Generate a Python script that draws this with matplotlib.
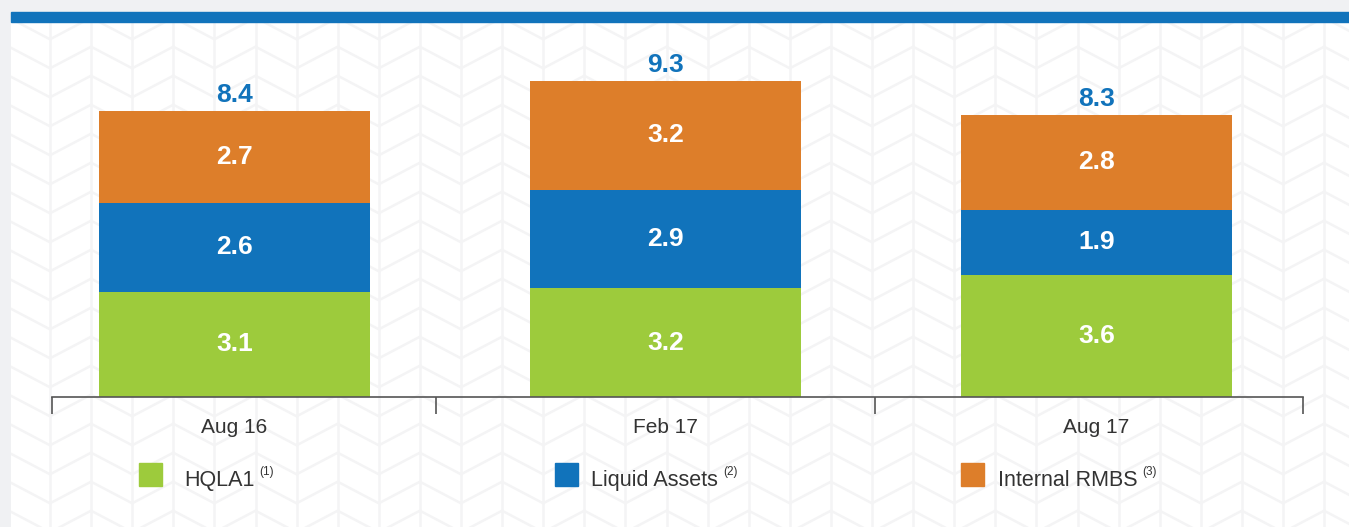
import matplotlib
matplotlib.use("Agg")
import matplotlib.pyplot as plt
from matplotlib.patches import Rectangle
from matplotlib.collections import LineCollection
import numpy as np

# data
periods = ["Aug 16", "Feb 17", "Aug 17"]
series = ["HQLA1", "Liquid Assets", "Internal RMBS"]
notes = ["(1)", "(2)", "(3)"]
hqla1 = [3.1, 3.2, 3.6]
liquid_assets = [2.6, 2.9, 1.9]
internal_rmbs = [2.7, 3.2, 2.8]
totals = [8.4, 9.3, 8.3]

colors = ["#9dcb3c", "#1173bb", "#dd7e2a"]
fonts = ["Liberation Sans Narrow", "Liberation Sans", "DejaVu Sans"]
plt.rcParams["font.family"] = fonts

W, H = 1349, 527
fig = plt.figure(figsize=(W / 100, H / 100), dpi=100, facecolor="#f0f1f3")

# white panel with herringbone pattern
bg = fig.add_axes([11 / W, 0, (W - 11) / W, (H - 22) / H], zorder=0)
bg.set_xlim(11, W)
bg.set_ylim(H, 22)
bg.axis("off")
bg.add_patch(Rectangle((11, 22), W - 11, H - 22, color="white", zorder=0))
xs = 50 + 41.1 * np.arange(-1, 34)
segs = [[(x, 22), (x, H)] for x in xs]
ys = [68.3 if (i - 1) % 2 == 0 else 46.7 for i in range(len(xs))]
for i in range(len(xs) - 1):
    for j in range(-3, 20):
        segs.append([(xs[i], ys[i] + 29 * j), (xs[i + 1], ys[i + 1] + 29 * j)])
bg.add_collection(LineCollection(segs, colors="#f4f4f5", linewidths=1.8, zorder=1))

# blue band on top
fig.patches.append(Rectangle((11 / W, (H - 22) / H), (W - 11) / W, 10 / H,
                             transform=fig.transFigure, color="#1173bb"))

ax = fig.add_axes([52 / W, 130 / H, 1251 / W, 340 / H], zorder=2)
ax.patch.set_visible(False)
x = np.arange(len(periods))
bottom = np.zeros(len(periods))
for vals, c in zip([hqla1, liquid_assets, internal_rmbs], colors):
    bars = ax.bar(x, vals, 0.629, bottom=bottom, color=c)
    ax.bar_label(bars, labels=[f"{v:.1f}" for v in vals], label_type="center",
                 color="white", fontsize=19, fontweight="bold")
    bottom += np.array(vals)

for xi, t in zip(x, totals):
    ax.annotate(f"{t:.1f}", (xi, t), xytext=(0, 6.5), textcoords="offset points",
                ha="center", va="baseline", color="#1173bb", fontsize=19,
                fontweight="bold")

ax.set_xlim(-0.4234, 2.479)
ax.set_ylim(0, 10)
ax.set_yticks([])
for s in ["left", "right", "top"]:
    ax.spines[s].set_visible(False)
ax.spines["bottom"].set_color("#555555")
ax.spines["bottom"].set_linewidth(1.2)
ax.set_xticks([-0.4234, 0.4675, 1.486, 2.479], labels=[])
ax.set_xticks(x, labels=periods, minor=True)
ax.tick_params(axis="x", which="major", length=12.2, width=1.2, color="#555555")
ax.tick_params(axis="x", which="minor", length=0, pad=15, labelsize=15,
               labelcolor="#333333")

# legend
sq_x = [139, 555, 961]
tx_x = [184, 591, 998]
renderer = fig.canvas.get_renderer()
for name, note, c, sx, tx in zip(series, notes, colors, sq_x, tx_x):
    fig.patches.append(Rectangle((sx / W, 1 - 486 / H), 23 / W, 23 / H,
                                 transform=fig.transFigure, color=c))
    t = fig.text(tx / W, 1 - 486 / H, name, fontsize=15.5, color="#333333",
                 va="baseline", ha="left")
    ext = t.get_window_extent(renderer)
    fig.text((ext.x1 + 5) / W, 1 - 475 / H, note, fontsize=8.5,
             color="#333333", va="baseline", ha="left")

fig.savefig("out.png", dpi=100, facecolor=fig.get_facecolor())
